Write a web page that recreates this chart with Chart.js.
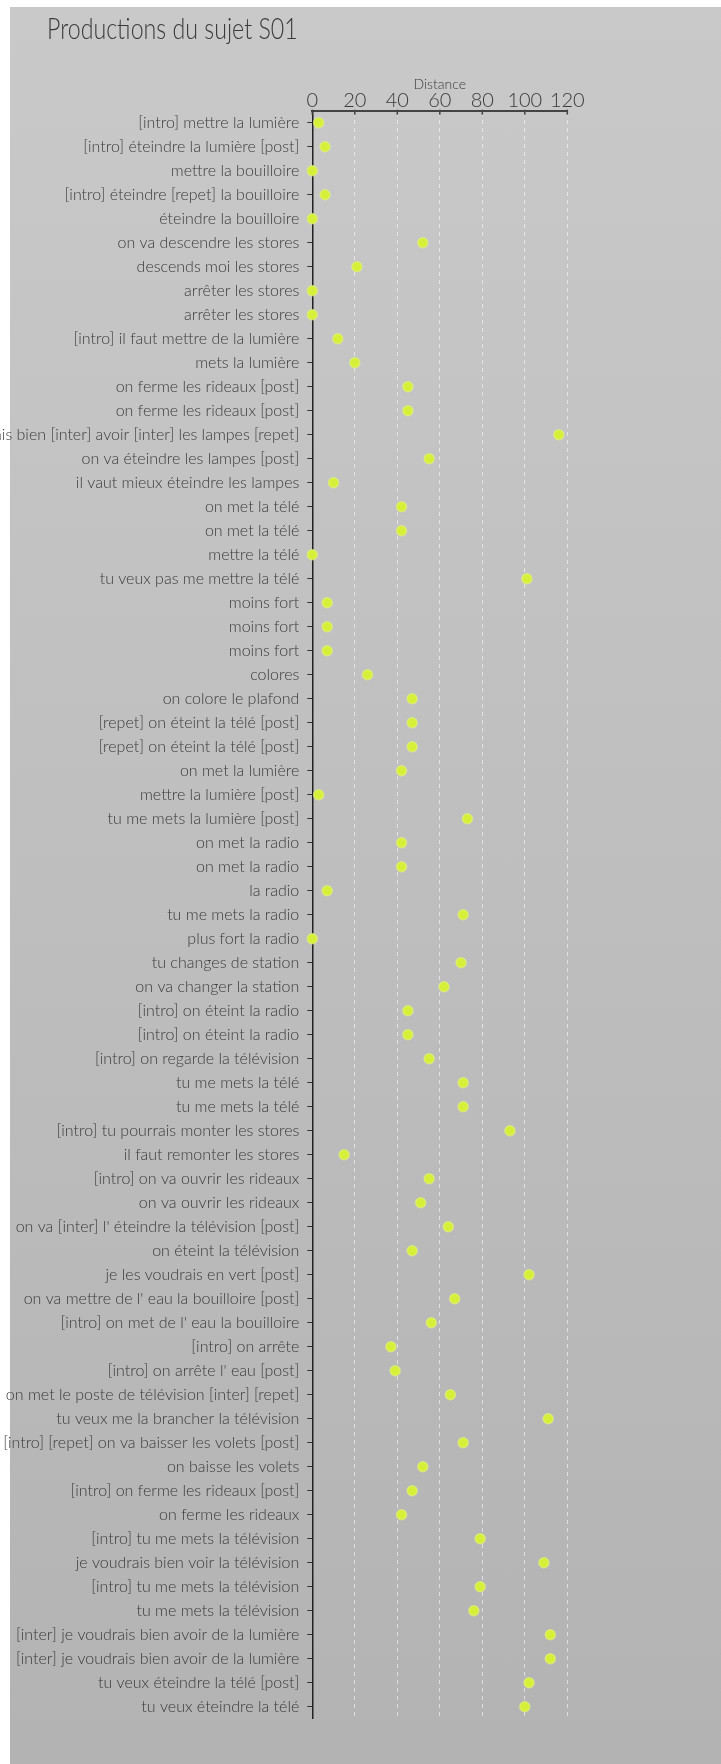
<!DOCTYPE html>
<html lang="fr">
<head>
<meta charset="utf-8">
<title>Productions du sujet S01</title>
<script src="https://cdn.jsdelivr.net/npm/chart.js@4.4.1/dist/chart.umd.min.js"></script>
<style>
    html, body { margin: 0; padding: 0; background: #ffffff; }
    #frame { position: relative; width: 721px; height: 1764px; overflow: hidden; }
    #panel {
        position: absolute; left: 10px; top: 7px; right: 0; bottom: 0;
        background: linear-gradient(to bottom, #c9c9c9 0%, #bdbdbd 55%, #b3b3b3 100%);
    }
    #chart { position: absolute; left: 0; top: 0; }
    #title {
        position: absolute; left: 47px; top: 13.3px;
        font: 300 29px/29px Lato, "Open Sans", sans-serif;
        color: #3a3a3a;
        white-space: nowrap;
        transform: scaleX(0.8);
        transform-origin: left top;
    }
</style>
</head>
<body>
<div id="frame">
    <div id="panel"></div>
    <canvas id="chart" width="721" height="1764"></canvas>
    <div id="title">Productions du sujet S01</div>
</div>
<script>
// ── Data ─────────────────────────────────────────────────
const productions = [
    "[intro] mettre la lumière",
    "[intro] éteindre la lumière [post]",
    "mettre la bouilloire",
    "[intro] éteindre [repet] la bouilloire",
    "éteindre la bouilloire",
    "on va descendre les stores",
    "descends moi les stores",
    "arrêter les stores",
    "arrêter les stores",
    "[intro] il faut mettre de la lumière",
    "mets la lumière",
    "on ferme les rideaux [post]",
    "on ferme les rideaux [post]",
    "je voudrais bien [inter] avoir [inter] les lampes [repet]",
    "on va éteindre les lampes [post]",
    "il vaut mieux éteindre les lampes",
    "on met la télé",
    "on met la télé",
    "mettre la télé",
    "tu veux pas me mettre la télé",
    "moins fort",
    "moins fort",
    "moins fort",
    "colores",
    "on colore le plafond",
    "[repet] on éteint la télé [post]",
    "[repet] on éteint la télé [post]",
    "on met la lumière",
    "mettre la lumière [post]",
    "tu me mets la lumière [post]",
    "on met la radio",
    "on met la radio",
    "la radio",
    "tu me mets la radio",
    "plus fort la radio",
    "tu changes de station",
    "on va changer la station",
    "[intro] on éteint la radio",
    "[intro] on éteint la radio",
    "[intro] on regarde la télévision",
    "tu me mets la télé",
    "tu me mets la télé",
    "[intro] tu pourrais monter les stores",
    "il faut remonter les stores",
    "[intro] on va ouvrir les rideaux",
    "on va ouvrir les rideaux",
    "on va [inter] l' éteindre la télévision [post]",
    "on éteint la télévision",
    "je les voudrais en vert [post]",
    "on va mettre de l' eau la bouilloire [post]",
    "[intro] on met de l' eau la bouilloire",
    "[intro] on arrête",
    "[intro] on arrête l' eau [post]",
    "on met le poste de télévision [inter] [repet]",
    "tu veux me la brancher la télévision",
    "[intro] [repet] on va baisser les volets [post]",
    "on baisse les volets",
    "[intro] on ferme les rideaux [post]",
    "on ferme les rideaux",
    "[intro] tu me mets la télévision",
    "je voudrais bien voir la télévision",
    "[intro] tu me mets la télévision",
    "tu me mets la télévision",
    "[inter] je voudrais bien avoir de la lumière",
    "[inter] je voudrais bien avoir de la lumière",
    "tu veux éteindre la télé [post]",
    "tu veux éteindre la télé"
];

const distances = [
    3, 6, 0, 6, 0, 52, 21, 0, 0, 12,
    20, 45, 45, 116, 55, 10, 42, 42, 0, 101,
    7, 7, 7, 26, 47, 47, 47, 42, 3, 73,
    42, 42, 7, 71, 0, 70, 62, 45, 45, 55,
    71, 71, 93, 15, 55, 51, 64, 47, 102, 67,
    56, 37, 39, 65, 111, 71, 52, 47, 42, 79,
    109, 79, 76, 112, 112, 102, 100
];

const distanceTicks = [0, 20, 40, 60, 80, 100, 120];

const textColor = "#3a3a3a";
const fontFamily = "Lato, 'Open Sans', sans-serif";

// small inward tick marks on the top axis
const innerTicks = {
    id: "innerTicks",
    afterDraw(chart) {
        const { ctx, chartArea, scales } = chart;
        ctx.save();
        ctx.strokeStyle = "#444";
        ctx.lineWidth = 1.5;
        distanceTicks.forEach((v) => {
            const x = scales.x.getPixelForValue(v);
            ctx.beginPath();
            ctx.moveTo(x, chartArea.top - 1);
            ctx.lineTo(x, chartArea.top + 4);
            ctx.stroke();
        });
        ctx.restore();
    }
};

new Chart(document.getElementById("chart"), {
    type: "line",
    data: {
        labels: productions,
        datasets: [{
            label: "Distance",
            data: distances,
            showLine: false,
            pointRadius: 5,
            pointHoverRadius: 5,
            pointBackgroundColor: "#d6f03a",
            pointBorderColor: "rgba(225, 240, 120, 0.7)",
            pointBorderWidth: 1.5,
            clip: false
        }]
    },
    options: {
        indexAxis: "y",
        responsive: false,
        animation: false,
        layout: {
            padding: { left: 0, right: 153.7, top: 71.9, bottom: 45.3 }
        },
        plugins: {
            legend: { display: false },
            tooltip: { enabled: false },
            title: { display: false }
        },
        scales: {
            x: {
                position: "top",
                min: 0,
                max: 120,
                afterBuildTicks: (scale) => {
                    scale.ticks = distanceTicks.map((v) => ({ value: v }));
                },
                title: {
                    display: true,
                    text: "Distance",
                    color: textColor,
                    font: { family: fontFamily, size: 14, weight: 300, lineHeight: 1.2 },
                    padding: { top: 4, bottom: -2 }
                },
                ticks: {
                    color: textColor,
                    padding: 0,
                    font: { family: fontFamily, size: 20, weight: 300, lineHeight: 1.0 }
                },
                grid: {
                    drawTicks: false,
                    color: (c) => c.tick && c.tick.value === 0 ? "rgba(0,0,0,0)" : "rgba(255,255,255,0.55)",
                    lineWidth: 1
                },
                border: {
                    display: true,
                    color: "#444",
                    width: 2,
                    dash: [4, 4]
                }
            },
            y: {
                type: "category",
                offset: true,
                afterFit: (scale) => {
                    scale.width = 312.3;
                },
                ticks: {
                    color: textColor,
                    padding: 8,
                    autoSkip: false,
                    font: { family: fontFamily, size: 16, weight: 300 }
                },
                grid: {
                    drawOnChartArea: false,
                    drawTicks: true,
                    tickLength: 5,
                    tickColor: "#333"
                },
                border: {
                    display: true,
                    color: "#222",
                    width: 1.5
                }
            }
        }
    },
    plugins: [innerTicks]
});
</script>
</body>
</html>
